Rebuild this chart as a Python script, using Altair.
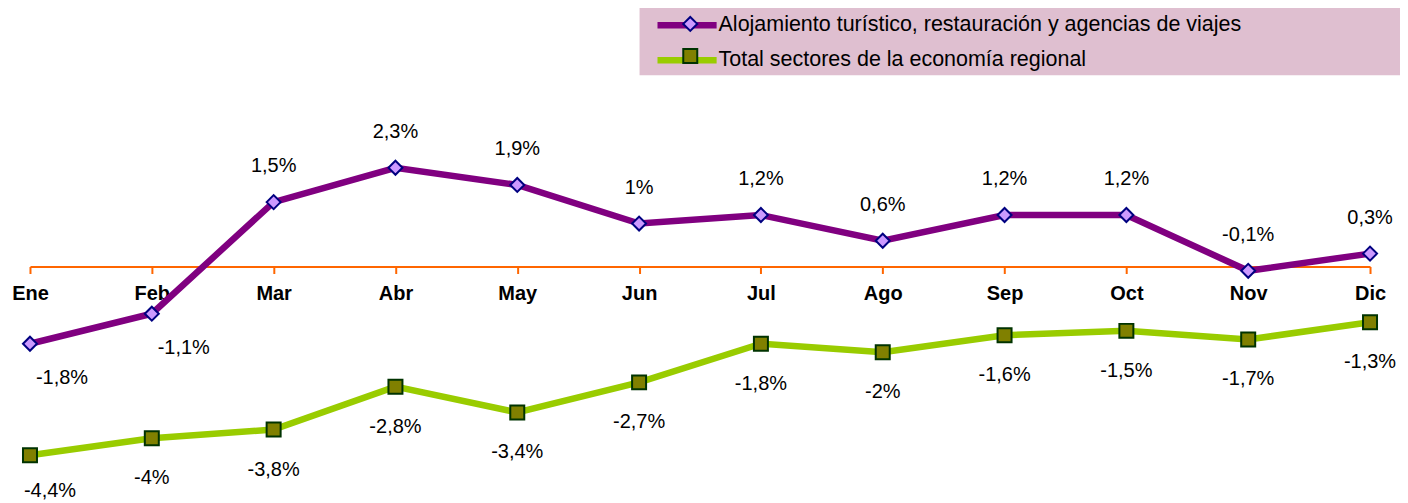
import altair as alt
import pandas as pd

months = ["Ene", "Feb", "Mar", "Abr", "May", "Jun", "Jul", "Ago", "Sep", "Oct", "Nov", "Dic"]
serie_a = "Alojamiento turístico, restauración y agencias de viajes"
serie_b = "Total sectores de la economía regional"
turismo = [-1.8, -1.1, 1.5, 2.3, 1.9, 1.0, 1.2, 0.6, 1.2, 1.2, -0.1, 0.3]
total = [-4.4, -4.0, -3.8, -2.8, -3.4, -2.7, -1.8, -2.0, -1.6, -1.5, -1.7, -1.3]


def fmt(v):
    return f"{v:g}".replace(".", ",") + "%"


rows = []
for i, (m, a, b) in enumerate(zip(months, turismo, total)):
    rows.append(dict(mes=m, idx=i, grupo="a", serie=serie_a, serie_m=serie_a, serie_o=serie_a,
                     valor=a, etiqueta=fmt(a)))
    rows.append(dict(mes=m, idx=i, grupo="b", serie=serie_b, serie_m=serie_b, serie_o=serie_b,
                     valor=b, etiqueta=fmt(b)))
df = pd.DataFrame(rows)

FONT = "Liberation Sans"
LX, LY = 610, -45.75
DOM = [serie_a, serie_b]

x = alt.X(
    "mes:N", sort=months,
    scale=alt.Scale(type="point", padding=0),
    axis=alt.Axis(title=None, orient="bottom", offset=-214.75,
                  domainColor="#ff6600", domainWidth=2,
                  tickColor="#ff6600", tickWidth=2, tickSize=7,
                  labelFont=FONT, labelFontSize=20, labelFontWeight="bold",
                  labelColor="black", labelPadding=10, labelAngle=0, grid=False),
)
y = alt.Y("valor:Q", scale=alt.Scale(domain=[-5, 5], nice=False, zero=False), axis=None)

# background box of the legend (no labels; the symbols are zero-area strokes of width 0)
leg_bg = alt.Legend(
    title=None, orient="none", legendX=LX, legendY=LY, fillColor="#dfbfd0",
    padding=7, rowPadding=15, symbolType="M0,-1V1", symbolSize=400,
    symbolOffset=734, symbolStrokeWidth=0, symbolFillColor="transparent",
    symbolStrokeColor="transparent", labelOffset=0, labelFontSize=1,
    labelExpr="''", direction="vertical", zindex=0,
)
# line part of the legend, with the labels
leg1 = alt.Legend(
    title=None, orient="none", legendX=LX, legendY=LY, padding=7,
    rowPadding=9, symbolType="M-3.4,0H3.4", symbolStrokeWidth=6.5, symbolSize=302.76,
    symbolOffset=28.55, labelOffset=19.5, labelFont=FONT, labelFontSize=21.5,
    labelColor="black", labelLimit=0, direction="vertical", zindex=1,
)
# marker part of the legend
leg2 = alt.Legend(
    title=None, orient="none", legendX=LX, legendY=LY, padding=7, rowPadding=9,
    symbolSize=196, symbolStrokeWidth=2, symbolOffset=33, labelOffset=2,
    labelFont=FONT, labelFontSize=21.5, labelExpr="''", labelLimit=0,
    direction="vertical", zindex=2,
)

base = alt.Chart(df)

lines = base.mark_line(strokeWidth=6.5).encode(
    x=x, y=y,
    color=alt.Color("serie:N", scale=alt.Scale(domain=DOM, range=["#800080", "#99cc00"]), legend=leg1),
)

points = base.mark_point(filled=True, size=196, strokeWidth=2, opacity=1).encode(
    x=x, y=y,
    shape=alt.Shape("serie_m:N", scale=alt.Scale(domain=DOM, range=["diamond", "square"]), legend=leg2),
    fill=alt.Fill("serie_m:N", scale=alt.Scale(domain=DOM, range=["#cc99ff", "#808000"]), legend=leg2),
    stroke=alt.Stroke("serie_m:N", scale=alt.Scale(domain=DOM, range=["#000080", "#003300"]), legend=leg2),
)

txt = dict(font=FONT, fontSize=20, color="black")

lab_a_up = base.transform_filter(
    "datum.grupo == 'a' && datum.idx > 1"
).mark_text(dy=-36, **txt).encode(
    x=x, y=y, text="etiqueta:N",
    opacity=alt.Opacity("serie_o:N", scale=alt.Scale(domain=DOM, range=[1, 1]), legend=leg_bg),
)

lab_a_down = base.transform_filter(
    "datum.grupo == 'a' && datum.idx <= 1"
).mark_text(dy=34, dx=32, **txt).encode(x=x, y=y, text="etiqueta:N")

lab_b = base.transform_filter(
    "datum.grupo == 'b' && datum.idx > 0"
).mark_text(dy=40, **txt).encode(x=x, y=y, text="etiqueta:N")

lab_b_first = base.transform_filter(
    "datum.grupo == 'b' && datum.idx == 0"
).mark_text(dy=36, dx=20, **txt).encode(x=x, y=y, text="etiqueta:N")

chart = (
    alt.layer(lines, points, lab_a_up, lab_a_down, lab_b, lab_b_first)
    .resolve_legend(color="independent", shape="independent", fill="independent",
                    stroke="independent", opacity="independent")
    .properties(
        width=1341, height=429.5,
        autosize=alt.AutoSizeParams(type="none"),
        padding={"left": 22, "top": 43.75, "right": 30, "bottom": 20},
        background="white",
    )
    .configure_view(stroke=None)
)

chart.save("out.html", embed_options={"renderer": "svg", "actions": False})
